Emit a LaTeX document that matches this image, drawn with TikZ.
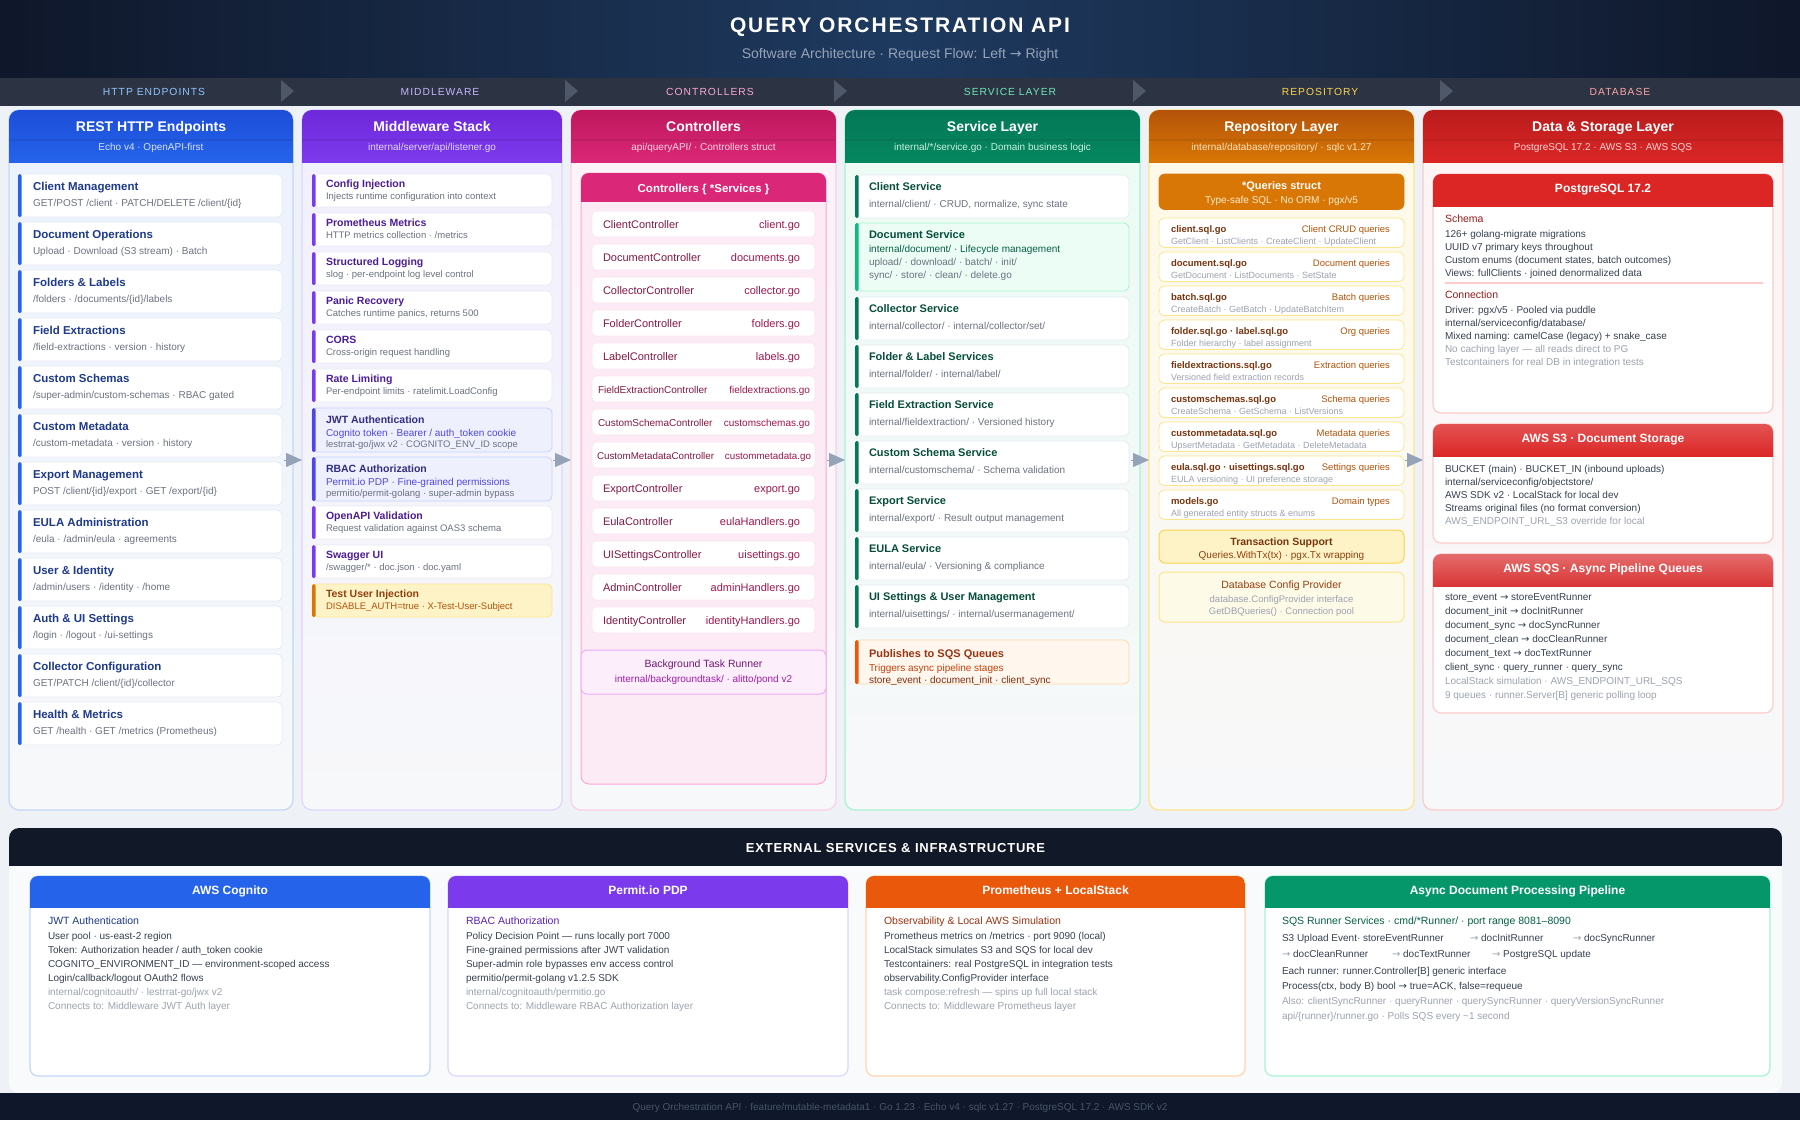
\documentclass[tikz,border=0pt]{standalone}
\usepackage{fontspec}
\setmainfont{Liberation Sans}
\newfontfamily\djvfont{DejaVu Sans}
\newfontfamily\ttlfont[LetterSpace=9]{Liberation Sans}
\newfontfamily\stgfont[LetterSpace=10]{Liberation Sans}
\newfontfamily\extfont[LetterSpace=6]{Liberation Sans}
\usetikzlibrary{arrows.meta,calc}

\definecolor{pagebg}{HTML}{EEF1F5}
\definecolor{hdrdark}{HTML}{0F172A}
\definecolor{hdrmid}{HTML}{1E3A5F}
\definecolor{stagebar}{HTML}{2C3444}
\definecolor{chev}{HTML}{4E5869}
\definecolor{ink}{HTML}{374151}
\definecolor{grey}{HTML}{6B7280}
\definecolor{muted}{HTML}{9CA3AF}
\definecolor{flowgrey}{HTML}{94A3B8}
\definecolor{cardLine}{HTML}{E6EBF3}
\definecolor{panelLow}{HTML}{F7F8FA}
\definecolor{sBlue}{HTML}{93C5FD}
\definecolor{sPurp}{HTML}{C4B5FD}
\definecolor{sPink}{HTML}{F9A8D4}
\definecolor{sGreen}{HTML}{6EE7B7}
\definecolor{sYellow}{HTML}{FCD34D}
\definecolor{sRed}{HTML}{FCA5A5}
% blue
\definecolor{bA}{HTML}{1D4ED8}
\definecolor{bB}{HTML}{2563EB}
\definecolor{bLine}{HTML}{C3D7F7}
\definecolor{bBg}{HTML}{EBF2FD}
\definecolor{bTitle}{HTML}{1E3A8A}
\definecolor{bSub}{HTML}{D6E4FD}
% purple
\definecolor{pA}{HTML}{6D28D9}
\definecolor{pB}{HTML}{7C3AED}
\definecolor{pLine}{HTML}{DDD6FE}
\definecolor{pBg}{HTML}{F1EFFD}
\definecolor{pTitle}{HTML}{4C1D95}
\definecolor{pSub}{HTML}{E4D9FC}
\definecolor{pHlBg}{HTML}{EEF0FE}
\definecolor{pHlLine}{HTML}{C7D2FE}
\definecolor{pHlAcc}{HTML}{4F46E5}
\definecolor{pHlTitle}{HTML}{312E81}
% amber
\definecolor{aBg}{HTML}{FEF3C7}
\definecolor{aLine}{HTML}{FDE68A}
\definecolor{aAcc}{HTML}{D97706}
\definecolor{aTitle}{HTML}{92400E}
\definecolor{aSub}{HTML}{B45309}
% pink
\definecolor{kA}{HTML}{BE185D}
\definecolor{kB}{HTML}{DB2777}
\definecolor{kLine}{HTML}{FBCFE8}
\definecolor{kBg}{HTML}{FDF2F8}
\definecolor{kSub}{HTML}{FBD5E6}
\definecolor{kInBg}{HTML}{FCEBF4}
\definecolor{kInLine}{HTML}{F9A8D4}
\definecolor{kText}{HTML}{831843}
\definecolor{kFile}{HTML}{9D174D}
\definecolor{kItemLine}{HTML}{FBE4EE}
\definecolor{kTaskBg}{HTML}{FCEFFB}
\definecolor{kTaskLine}{HTML}{F0ABFC}
\definecolor{kTaskTitle}{HTML}{701A75}
\definecolor{kTaskSub}{HTML}{A21CAF}
% green
\definecolor{gA}{HTML}{047857}
\definecolor{gB}{HTML}{05875F}
\definecolor{gLine}{HTML}{A7F3D0}
\definecolor{gBg}{HTML}{ECFBF4}
\definecolor{gTitle}{HTML}{064E3B}
\definecolor{gSub}{HTML}{C9F2E0}
\definecolor{gHlBg}{HTML}{ECFDF5}
\definecolor{gHlAcc}{HTML}{10B981}
\definecolor{gHlText}{HTML}{065F46}
% orange
\definecolor{oBg}{HTML}{FFF7ED}
\definecolor{oLine}{HTML}{FED7AA}
\definecolor{oAcc}{HTML}{EA580C}
\definecolor{oTitle}{HTML}{9A3412}
\definecolor{oText}{HTML}{C2410C}
\definecolor{oText2}{HTML}{7C2D12}
% repository
\definecolor{rA}{HTML}{B45309}
\definecolor{rB}{HTML}{D97706}
\definecolor{rLine}{HTML}{FDE68A}
\definecolor{rBg}{HTML}{FFF9E6}
\definecolor{rSub}{HTML}{FDE3B8}
\definecolor{rFile}{HTML}{78350F}
\definecolor{rDesc}{HTML}{B45309}
\definecolor{rQ}{HTML}{D97706}
\definecolor{rQSub}{HTML}{FDECC8}
\definecolor{rTxBg}{HTML}{FEF3C7}
\definecolor{rTxLine}{HTML}{FCD34D}
\definecolor{rCfgBg}{HTML}{FEFAE8}
% red
\definecolor{dA}{HTML}{B91C1C}
\definecolor{dB}{HTML}{DC2626}
\definecolor{dLine}{HTML}{FECACA}
\definecolor{dBg}{HTML}{FEF4F4}
\definecolor{dSub}{HTML}{FDD3D3}
\definecolor{dHead}{HTML}{991B1B}
\definecolor{dS3a}{HTML}{E35353}
\definecolor{dSQSa}{HTML}{E46C6C}
\definecolor{dSQSb}{HTML}{D93636}
% bottom
\definecolor{extBg}{HTML}{F8FAFC}
\definecolor{extDark}{HTML}{111827}
\definecolor{promB}{HTML}{EA580C}
\definecolor{asyncB}{HTML}{059669}
\definecolor{cogHead}{HTML}{1E3A8A}
\definecolor{perHead}{HTML}{5B21B6}
\definecolor{footText}{HTML}{475569}

\newcommand\fsz[1]{\fontsize{#1}{#1}\selectfont}
\newcommand\arr{{\djvfont →}}

\tikzset{
  txt/.style={inner sep=0pt, outer sep=0pt},
  tl/.style={txt, anchor=base west},
  tc/.style={txt, anchor=base},
  tr/.style={txt, anchor=base east},
  panel/.style={inner sep=0pt, outer sep=0pt, anchor=north west, rounded corners=10pt, line width=1.2pt},
  card/.style={inner sep=0pt, outer sep=0pt, anchor=north west, rounded corners=5pt, line width=0.8pt, fill=white},
  flow/.style={flowgrey, line width=1pt, -{Triangle[length=16pt,width=14pt]}},
}

\newcommand\accbar[4]{\fill[#1, rounded corners=1.5pt] (#2,#3) rectangle ++(3.5,#4);}
\newcommand\tline[6]{\node[tl, font=\fsz{#4}, text=#5] (#1) at (#2,#3) {#6};}

\newcommand\colhead[8]{%
  \begin{scope}
    \clip[rounded corners=10pt] (#2,110) rectangle (#3,810);
    \shade[top color=#4, bottom color=#5] (#2,110) rectangle (#3,162);
    \fill[black, opacity=0.07] (#2,139) rectangle (#3,140.5);
  \end{scope}
  \node[tc, font=\fsz{14}\bfseries, text=white] (#1t) at ({(#2+#3)/2},131) {#6};
  \node[tc, font=\fsz{10}, text=#8] (#1s) at ({(#2+#3)/2},150.5) {#7};}

\newcommand\subhead[7]{%
  \begin{scope}
    \clip[rounded corners=#7] (#1,#2) rectangle (#3,#4+30);
    \shade[top color=#5, bottom color=#6] (#1,#2) rectangle (#3,#4);
  \end{scope}}

\newcommand\epitem[4]{%
  \node[card, draw=cardLine, minimum width=264pt, minimum height=43pt] (#1) at (18,#2) {};
  \accbar{bB}{18}{#2}{43}
  \node[tl, font=\fsz{11.5}\bfseries, text=bTitle] (#1a) at (33,#2+16) {#3};
  \node[tl, font=\fsz{10}, text=grey] (#1b) at (33,#2+32.5) {#4};}

\newcommand\mwitem[4]{%
  \node[card, draw=cardLine, minimum width=240pt, minimum height=33pt] (#1) at (312,#2) {};
  \accbar{pB}{312}{#2}{33}
  \node[tl, font=\fsz{10.5}\bfseries, text=pTitle] (#1a) at (326,#2+13.5) {#3};
  \node[tl, font=\fsz{9.5}, text=grey] (#1b) at (326,#2+25.8) {#4};}

\newcommand\mwhl[5]{%
  \node[card, fill=pHlBg, draw=pHlLine, minimum width=240pt, minimum height=44pt] (#1) at (312,#2) {};
  \accbar{pHlAcc}{312}{#2}{44}
  \node[tl, font=\fsz{10.5}\bfseries, text=pHlTitle] (#1a) at (326,#2+15) {#3};
  \node[tl, font=\fsz{10}, text=pHlAcc] (#1b) at (326,#2+28.5) {#4};
  \node[tl, font=\fsz{9.5}, text=grey] (#1c) at (326,#2+39.5) {#5};}

% #1 name #2 top #3 controller #4 file #5 font size #6 name x #7 file right x
\newcommand\ctitem[7]{%
  \node[card, rounded corners=4pt, draw=kItemLine, minimum width=223pt, minimum height=26pt] (#1) at (592,#2) {};
  \node[tl, font=\fsz{#5}, text=kText] (#1a) at (#6,#2+17) {#3};
  \node[tr, font=\fsz{#5}, text=kFile] (#1b) at (#7,#2+17) {#4};}

\newcommand\svitem[4]{%
  \node[card, draw=cardLine, minimum width=274pt, minimum height=43pt] (#1) at (855,#2) {};
  \accbar{gA}{855}{#2}{43}
  \node[tl, font=\fsz{11}\bfseries, text=gTitle] (#1a) at (869,#2+15.5) {#3};
  \node[tl, font=\fsz{10}, text=grey] (#1b) at (869,#2+32.5) {#4};}

\newcommand\rpitem[5]{%
  \node[card, draw=rLine, minimum width=245pt, minimum height=29.5pt] (#1) at (1159,#2) {};
  \node[tl, font=\fsz{9.5}\bfseries, text=rFile] (#1a) at (1171,#2+14) {#3};
  \node[tr, font=\fsz{9.5}, text=rDesc] (#1b) at (1390,#2+14) {#4};
  \node[tl, font=\fsz{9}, text=muted] (#1c) at (1171,#2+26) {#5};}

\newcommand\extbox[6]{%
  \node[card, rounded corners=8pt, draw=#5, line width=1.2pt, minimum width=#3pt, minimum height=200pt] (#1) at (#2,876) {};
  \begin{scope}
    \clip[rounded corners=8pt] (#2,876) rectangle ++(#3,60);
    \fill[#4] (#2,876) rectangle ++(#3,32);
  \end{scope}
  \node[tc, font=\fsz{12}\bfseries, text=white] (#1t) at ($(#1.north)+(0,18.3)$) {#6};}

\begin{document}
\begin{tikzpicture}[x=1pt,y=-1pt]
\useasboundingbox (0,0) rectangle (1800,1120);
\fill[pagebg] (0,0) rectangle (1800,1120);

% ===== header =====
\shade[left color=hdrdark, right color=hdrdark, middle color=hdrmid] (0,0) rectangle (1800,78);
\node[tc, font=\ttlfont\fsz{21}\bfseries, text=white] (title) at (900,32.5) {QUERY ORCHESTRATION API};
\node[tc, font=\fsz{14}, text=flowgrey] (subtitle) at (900,58) {Software Architecture · Request Flow: Left \arr{} Right};

% ===== stage bar =====
\fill[stagebar] (0,78) rectangle (1800,106);
\foreach \cx in {281,565,834,1133,1440} {\fill[chev] (\cx,80) -- (\cx+13,91) -- (\cx,102) -- cycle;}
\node[tc, font=\stgfont\fsz{10.3}, text=sBlue] (st1) at (154,95.6) {HTTP ENDPOINTS};
\node[tc, font=\stgfont\fsz{10.3}, text=sPurp] (st2) at (440,95.6) {MIDDLEWARE};
\node[tc, font=\stgfont\fsz{10.3}, text=sPink] (st3) at (710,95.6) {CONTROLLERS};
\node[tc, font=\stgfont\fsz{10.3}, text=sGreen] (st4) at (1010,95.6) {SERVICE LAYER};
\node[tc, font=\stgfont\fsz{10.3}, text=sYellow] (st5) at (1320,95.6) {REPOSITORY};
\node[tc, font=\stgfont\fsz{10.3}, text=sRed] (st6) at (1620,95.6) {DATABASE};

% ===== panels =====
\node[panel, draw=bLine, top color=bBg, bottom color=panelLow, minimum width=284pt, minimum height=700pt] (c1) at (9,110) {};
\node[panel, draw=pLine, top color=pBg, bottom color=panelLow, minimum width=260pt, minimum height=700pt] (c2) at (302,110) {};
\node[panel, draw=kLine, top color=kBg, bottom color=panelLow, minimum width=265pt, minimum height=700pt] (c3) at (571,110) {};
\node[panel, draw=gLine, top color=gBg, bottom color=panelLow, minimum width=295pt, minimum height=700pt] (c4) at (845,110) {};
\node[panel, draw=rLine, top color=rBg, bottom color=panelLow, minimum width=265pt, minimum height=700pt] (c5) at (1149,110) {};
\node[panel, draw=dLine, top color=dBg, bottom color=panelLow, minimum width=360pt, minimum height=700pt] (c6) at (1423,110) {};

\colhead{c1}{9}{293}{bA}{bB}{REST HTTP Endpoints}{Echo v4 · OpenAPI-first}{bSub}
\colhead{c2}{302}{562}{pA}{pB}{Middleware Stack}{internal/server/api/listener.go}{pSub}
\colhead{c3}{571}{836}{kA}{kB}{Controllers}{api/queryAPI/ · Controllers struct}{kSub}
\colhead{c4}{845}{1140}{gA}{gB}{Service Layer}{internal/*/service.go · Domain business logic}{gSub}
\colhead{c5}{1149}{1414}{rA}{rB}{Repository Layer}{internal/database/repository/ · sqlc v1.27}{rSub}
\colhead{c6}{1423}{1783}{dA}{dB}{Data \& Storage Layer}{PostgreSQL 17.2 · AWS S3 · AWS SQS}{dSub}

% ===== column 1 =====
\epitem{ep1}{174}{Client Management}{GET/POST /client · PATCH/DELETE /client/\{id\}}
\epitem{ep2}{222}{Document Operations}{Upload · Download (S3 stream) · Batch}
\epitem{ep3}{270}{Folders \& Labels}{/folders · /documents/\{id\}/labels}
\epitem{ep4}{318}{Field Extractions}{/field-extractions · version · history}
\epitem{ep5}{366}{Custom Schemas}{/super-admin/custom-schemas · RBAC gated}
\epitem{ep6}{414}{Custom Metadata}{/custom-metadata · version · history}
\epitem{ep7}{462}{Export Management}{POST /client/\{id\}/export · GET /export/\{id\}}
\epitem{ep8}{510}{EULA Administration}{/eula · /admin/eula · agreements}
\epitem{ep9}{558}{User \& Identity}{/admin/users · /identity · /home}
\epitem{ep10}{606}{Auth \& UI Settings}{/login · /logout · /ui-settings}
\epitem{ep11}{654}{Collector Configuration}{GET/PATCH /client/\{id\}/collector}
\epitem{ep12}{702}{Health \& Metrics}{GET /health · GET /metrics (Prometheus)}

% ===== column 2 =====
\mwitem{mw1}{174}{Config Injection}{Injects runtime configuration into context}
\mwitem{mw2}{213}{Prometheus Metrics}{HTTP metrics collection · /metrics}
\mwitem{mw3}{252}{Structured Logging}{slog · per-endpoint log level control}
\mwitem{mw4}{291}{Panic Recovery}{Catches runtime panics, returns 500}
\mwitem{mw5}{330}{CORS}{Cross-origin request handling}
\mwitem{mw6}{369}{Rate Limiting}{Per-endpoint limits · ratelimit.LoadConfig}
\mwhl{mw7}{408}{JWT Authentication}{Cognito token · Bearer / auth\_token cookie}{lestrrat-go/jwx v2 · COGNITO\_ENV\_ID scope}
\mwhl{mw8}{457}{RBAC Authorization}{Permit.io PDP · Fine-grained permissions}{permitio/permit-golang · super-admin bypass}
\mwitem{mw9}{506}{OpenAPI Validation}{Request validation against OAS3 schema}
\mwitem{mw10}{545}{Swagger UI}{/swagger/* · doc.json · doc.yaml}
\node[card, fill=aBg, draw=aLine, minimum width=240pt, minimum height=33pt] (mw11) at (312,584) {};
\accbar{aAcc}{312}{584}{33}
\node[tl, font=\fsz{10.5}\bfseries, text=aTitle] (mw11a) at (326,597.5) {Test User Injection};
\node[tl, font=\fsz{9.5}, text=aSub] (mw11b) at (326,609.8) {DISABLE\_AUTH=true · X-Test-User-Subject};

% ===== column 3 =====
\node[card, rounded corners=8pt, fill=kInBg, draw=kInLine, line width=1pt, minimum width=245pt, minimum height=611pt] (ctrlbox) at (581,173) {};
\begin{scope}
  \clip[rounded corners=8pt] (581,173) rectangle (826,230);
  \fill[kB] (581,173) rectangle (826,202);
\end{scope}
\node[tc, font=\fsz{11.5}\bfseries, text=white] (ctrlboxt) at (703.5,192) {Controllers \{ *Services \}};
\ctitem{ct1}{211}{ClientController}{client.go}{11}{603}{800}
\ctitem{ct2}{244}{DocumentController}{documents.go}{11}{603}{800}
\ctitem{ct3}{277}{CollectorController}{collector.go}{11}{603}{800}
\ctitem{ct4}{310}{FolderController}{folders.go}{11}{603}{800}
\ctitem{ct5}{343}{LabelController}{labels.go}{11}{603}{800}
\ctitem{ct6}{376}{FieldExtractionController}{fieldextractions.go}{10}{598}{810}
\ctitem{ct7}{409}{CustomSchemaController}{customschemas.go}{10}{598}{810}
\ctitem{ct8}{442}{CustomMetadataController}{custommetadata.go}{9.8}{597}{811}
\ctitem{ct9}{475}{ExportController}{export.go}{11}{603}{800}
\ctitem{ct10}{508}{EulaController}{eulaHandlers.go}{11}{603}{800}
\ctitem{ct11}{541}{UISettingsController}{uisettings.go}{11}{603}{800}
\ctitem{ct12}{574}{AdminController}{adminHandlers.go}{11}{603}{800}
\ctitem{ct13}{607}{IdentityController}{identityHandlers.go}{11}{603}{800}
\node[card, rounded corners=6pt, fill=kTaskBg, draw=kTaskLine, line width=1pt, minimum width=245pt, minimum height=44pt] (bgtask) at (581,650) {};
\node[tc, font=\fsz{10.5}, text=kTaskTitle] (bgtaskt) at (703.5,667.8) {Background Task Runner};
\node[tc, font=\fsz{10}, text=kTaskSub] (bgtasks) at (703.5,682.5) {internal/backgroundtask/ · alitto/pond v2};

% ===== column 4 =====
\svitem{sv1}{175}{Client Service}{internal/client/ · CRUD, normalize, sync state}
\node[card, fill=gHlBg, draw=gLine, minimum width=274pt, minimum height=68pt] (sv2) at (855,223) {};
\accbar{gHlAcc}{855}{223}{68}
\node[tl, font=\fsz{11}\bfseries, text=gTitle] (sv2a) at (869,238.5) {Document Service};
\node[tl, font=\fsz{10}, text=gHlText] (sv2b) at (869,252) {internal/document/ · Lifecycle management};
\node[tl, font=\fsz{10}, text=grey] (sv2c) at (869,265) {upload/ · download/ · batch/ · init/};
\node[tl, font=\fsz{10}, text=grey] (sv2d) at (869,278.5) {sync/ · store/ · clean/ · delete.go};
\svitem{sv3}{297}{Collector Service}{internal/collector/ · internal/collector/set/}
\svitem{sv4}{345}{Folder \& Label Services}{internal/folder/ · internal/label/}
\svitem{sv5}{393}{Field Extraction Service}{internal/fieldextraction/ · Versioned history}
\svitem{sv6}{441}{Custom Schema Service}{internal/customschema/ · Schema validation}
\svitem{sv7}{489}{Export Service}{internal/export/ · Result output management}
\svitem{sv8}{537}{EULA Service}{internal/eula/ · Versioning \& compliance}
\svitem{sv9}{585}{UI Settings \& User Management}{internal/uisettings/ · internal/usermanagement/}
\node[card, fill=oBg, draw=oLine, minimum width=274pt, minimum height=44pt] (sv10) at (855,640) {};
\accbar{oAcc}{855}{640}{44}
\node[tl, font=\fsz{11}\bfseries, text=oTitle] (sv10a) at (869,657) {Publishes to SQS Queues};
\node[tl, font=\fsz{10}, text=oText] (sv10b) at (869,671.5) {Triggers async pipeline stages};
\node[tl, font=\fsz{10}, text=oText2] (sv10c) at (869,683.5) {store\_event · document\_init · client\_sync};

% ===== column 5 =====
\node[card, rounded corners=6pt, fill=rQ, draw=rQ, minimum width=245pt, minimum height=35.5pt] (rpq) at (1159,174) {};
\node[tc, font=\fsz{11}\bfseries, text=white] (rpqa) at (1281.5,189) {*Queries struct};
\node[tc, font=\fsz{10}, text=rQSub] (rpqb) at (1281.5,203.5) {Type-safe SQL · No ORM · pgx/v5};
\rpitem{rp1}{218}{client.sql.go}{Client CRUD queries}{GetClient · ListClients · CreateClient · UpdateClient}
\rpitem{rp2}{252}{document.sql.go}{Document queries}{GetDocument · ListDocuments · SetState}
\rpitem{rp3}{286}{batch.sql.go}{Batch queries}{CreateBatch · GetBatch · UpdateBatchItem}
\rpitem{rp4}{320}{folder.sql.go · label.sql.go}{Org queries}{Folder hierarchy · label assignment}
\rpitem{rp5}{354}{fieldextractions.sql.go}{Extraction queries}{Versioned field extraction records}
\rpitem{rp6}{388}{customschemas.sql.go}{Schema queries}{CreateSchema · GetSchema · ListVersions}
\rpitem{rp7}{422}{custommetadata.sql.go}{Metadata queries}{UpsertMetadata · GetMetadata · DeleteMetadata}
\rpitem{rp8}{456}{eula.sql.go · uisettings.sql.go}{Settings queries}{EULA versioning · UI preference storage}
\rpitem{rp9}{490}{models.go}{Domain types}{All generated entity structs \& enums}
\node[card, rounded corners=6pt, fill=rTxBg, draw=rTxLine, line width=1pt, minimum width=245pt, minimum height=33pt] (rptx) at (1159,530) {};
\node[tc, font=\fsz{10.5}\bfseries, text=rFile] (rptxa) at (1281.5,545) {Transaction Support};
\node[tc, font=\fsz{10}, text=aTitle] (rptxb) at (1281.5,558) {Queries.WithTx(tx) · pgx.Tx wrapping};
\node[card, rounded corners=6pt, fill=rCfgBg, draw=rLine, line width=1pt, minimum width=245pt, minimum height=50pt] (rpcfg) at (1159,572) {};
\node[tc, font=\fsz{10.5}, text=aTitle] (rpcfga) at (1281.5,588.3) {Database Config Provider};
\node[tc, font=\fsz{9.5}, text=muted] (rpcfgb) at (1281.5,602) {database.ConfigProvider interface};
\node[tc, font=\fsz{9.5}, text=muted] (rpcfgc) at (1281.5,614) {GetDBQueries() · Connection pool};

% ===== column 6 =====
\node[card, rounded corners=8pt, draw=dLine, line width=1.2pt, minimum width=340pt, minimum height=239pt] (pg) at (1433,174) {};
\subhead{1433}{174}{1773}{206}{dB}{dB}{8pt}
\node[tc, font=\fsz{12}\bfseries, text=white] (pgt) at (1603,192.3) {PostgreSQL 17.2};
\tline{pg1}{1445}{222.8}{10.5}{dHead}{Schema}
\tline{pg2}{1445}{237.6}{10}{ink}{126+ golang-migrate migrations}
\tline{pg3}{1445}{250.6}{10}{ink}{UUID v7 primary keys throughout}
\tline{pg4}{1445}{263.6}{10}{ink}{Custom enums (document states, batch outcomes)}
\tline{pg5}{1445}{276.6}{10}{ink}{Views: fullClients · joined denormalized data}
\draw[dLine, line width=1.5pt] (1445,283) -- (1763,283);
\tline{pg6}{1445}{298.8}{10.5}{dHead}{Connection}
\tline{pg7}{1445}{313.6}{10}{ink}{Driver: pgx/v5 · Pooled via puddle}
\tline{pg8}{1445}{326.6}{10}{ink}{internal/serviceconfig/database/}
\tline{pg9}{1445}{339.6}{10}{ink}{Mixed naming: camelCase (legacy) + snake\_case}
\tline{pg10}{1445}{352.6}{10}{muted}{No caching layer — all reads direct to PG}
\tline{pg11}{1445}{365.6}{10}{muted}{Testcontainers for real DB in integration tests}

\node[card, rounded corners=8pt, draw=dLine, line width=1.2pt, minimum width=340pt, minimum height=119pt] (s3) at (1433,424) {};
\subhead{1433}{424}{1773}{456}{dS3a}{dB}{8pt}
\node[tc, font=\fsz{12}\bfseries, text=white] (s3t) at (1603,442.3) {AWS S3 · Document Storage};
\tline{s31}{1445}{472.6}{10}{ink}{BUCKET (main) · BUCKET\_IN (inbound uploads)}
\tline{s32}{1445}{485.6}{10}{ink}{internal/serviceconfig/objectstore/}
\tline{s33}{1445}{498.6}{10}{ink}{AWS SDK v2 · LocalStack for local dev}
\tline{s34}{1445}{511.6}{10}{ink}{Streams original files (no format conversion)}
\tline{s35}{1445}{524.6}{10}{muted}{AWS\_ENDPOINT\_URL\_S3 override for local}

\node[card, rounded corners=8pt, draw=dLine, line width=1.2pt, minimum width=340pt, minimum height=159pt] (sqs) at (1433,554) {};
\subhead{1433}{554}{1773}{586}{dSQSa}{dSQSb}{8pt}
\node[tc, font=\fsz{12}\bfseries, text=white] (sqst) at (1603,572.3) {AWS SQS · Async Pipeline Queues};
\tline{sq1}{1445}{600.6}{10}{ink}{store\_event \arr{} storeEventRunner}
\tline{sq2}{1445}{614.6}{10}{ink}{document\_init \arr{} docInitRunner}
\tline{sq3}{1445}{628.6}{10}{ink}{document\_sync \arr{} docSyncRunner}
\tline{sq4}{1445}{642.6}{10}{ink}{document\_clean \arr{} docCleanRunner}
\tline{sq5}{1445}{656.6}{10}{ink}{document\_text \arr{} docTextRunner}
\tline{sq6}{1445}{670.6}{10}{ink}{client\_sync · query\_runner · query\_sync}
\tline{sq7}{1445}{684.6}{10}{muted}{LocalStack simulation · AWS\_ENDPOINT\_URL\_SQS}
\tline{sq8}{1445}{698.6}{10}{muted}{9 queues · runner.Server[B] generic polling loop}

% ===== flow arrows =====
\draw[flow] ([xshift=-9pt]c1.east) -- (c2.west);
\draw[flow] ([xshift=-9pt]c2.east) -- (c3.west);
\draw[flow] ([xshift=-9pt]c3.east) -- (c4.west);
\draw[flow] ([xshift=-9pt]c4.east) -- (c5.west);
\draw[flow] ([xshift=-9pt]c5.east) -- (c6.west);

% ===== external services =====
\node[panel, fill=extBg, draw=none, minimum width=1773pt, minimum height=265pt] (ext) at (9,828) {};
\begin{scope}
  \clip[rounded corners=10pt] (9,828) rectangle (1782,1093);
  \fill[extDark] (9,828) rectangle (1782,866);
\end{scope}
\node[tc, font=\extfont\fsz{13}\bfseries, text=white] (extt) at (895.5,852.6) {EXTERNAL SERVICES \& INFRASTRUCTURE};

\extbox{cog}{30}{400}{bB}{bLine}{AWS Cognito}
\tline{cog1}{48}{924.5}{10.5}{cogHead}{JWT Authentication}
\tline{cog2}{48}{939.3}{10}{ink}{User pool · us-east-2 region}
\tline{cog3}{48}{953.3}{10}{ink}{Token: Authorization header / auth\_token cookie}
\tline{cog4}{48}{967.3}{10}{ink}{COGNITO\_ENVIRONMENT\_ID — environment-scoped access}
\tline{cog5}{48}{981.3}{10}{ink}{Login/callback/logout OAuth2 flows}
\tline{cog6}{48}{995.3}{10}{muted}{internal/cognitoauth/ · lestrrat-go/jwx v2}
\tline{cog7}{48}{1009.3}{10}{muted}{Connects to: Middleware JWT Auth layer}

\extbox{per}{448}{400}{pB}{pLine}{Permit.io PDP}
\tline{per1}{466}{924.5}{10.5}{perHead}{RBAC Authorization}
\tline{per2}{466}{939.3}{10}{ink}{Policy Decision Point — runs locally port 7000}
\tline{per3}{466}{953.3}{10}{ink}{Fine-grained permissions after JWT validation}
\tline{per4}{466}{967.3}{10}{ink}{Super-admin role bypasses env access control}
\tline{per5}{466}{981.3}{10}{ink}{permitio/permit-golang v1.2.5 SDK}
\tline{per6}{466}{995.3}{10}{muted}{internal/cognitoauth/permitio.go}
\tline{per7}{466}{1009.3}{10}{muted}{Connects to: Middleware RBAC Authorization layer}

\extbox{prm}{866}{379}{promB}{oLine}{Prometheus + LocalStack}
\tline{prm1}{884}{924.5}{10.5}{oTitle}{Observability \& Local AWS Simulation}
\tline{prm2}{884}{939.3}{10}{ink}{Prometheus metrics on /metrics · port 9090 (local)}
\tline{prm3}{884}{953.3}{10}{ink}{LocalStack simulates S3 and SQS for local dev}
\tline{prm4}{884}{967.3}{10}{ink}{Testcontainers: real PostgreSQL in integration tests}
\tline{prm5}{884}{981.3}{10}{ink}{observability.ConfigProvider interface}
\tline{prm6}{884}{995.3}{10}{muted}{task compose:refresh — spins up full local stack}
\tline{prm7}{884}{1009.3}{10}{muted}{Connects to: Middleware Prometheus layer}

\extbox{asy}{1265}{505}{asyncB}{gLine}{Async Document Processing Pipeline}
\tline{asy1}{1282}{924.5}{10.5}{gHlText}{SQS Runner Services · cmd/*Runner/ · port range 8081–8090}
\tline{asy2}{1282}{941.3}{10}{ink}{S3 Upload Event· storeEventRunner}
\tline{asy3}{1470}{941.3}{10}{ink}{\textcolor{muted}{\arr} docInitRunner}
\tline{asy4}{1573}{941.3}{10}{ink}{\textcolor{muted}{\arr} docSyncRunner}
\tline{asy5}{1282}{957.3}{10}{ink}{\textcolor{muted}{\arr} docCleanRunner}
\tline{asy6}{1392}{957.3}{10}{ink}{\textcolor{muted}{\arr} docTextRunner}
\tline{asy7}{1492}{957.3}{10}{ink}{\textcolor{muted}{\arr} PostgreSQL update}
\tline{asy8}{1282}{974.3}{10}{ink}{Each runner: runner.Controller[B] generic interface}
\tline{asy9}{1282}{989.3}{10}{ink}{Process(ctx, body B) bool \arr{} true=ACK, false=requeue}
\tline{asy10}{1282}{1004.3}{10}{muted}{Also: clientSyncRunner · queryRunner · querySyncRunner · queryVersionSyncRunner}
\tline{asy11}{1282}{1019.3}{10}{muted}{api/\{runner\}/runner.go · Polls SQS every \textasciitilde1 second}

% ===== footer =====
\fill[hdrdark] (0,1093) rectangle (1800,1120);
\node[tc, font=\fsz{10}, text=footText] (footer) at (900,1110.6) {Query Orchestration API · feature/mutable-metadata1 · Go 1.23 · Echo v4 · sqlc v1.27 · PostgreSQL 17.2 · AWS SDK v2};
\end{tikzpicture}
\end{document}
